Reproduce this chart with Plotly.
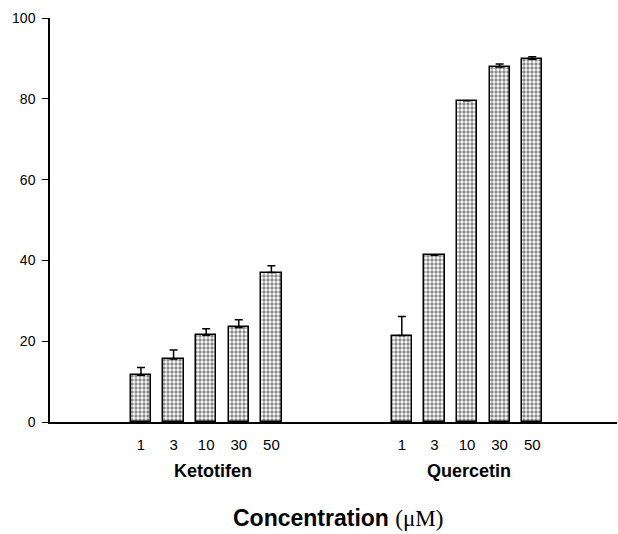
import plotly.graph_objects as go

concentrations = ["1", "3", "10", "30", "50"]
groups = ["Ketotifen", "Quercetin"]
ketotifen_values = [11.6, 15.6, 21.5, 23.4, 37.0]
ketotifen_err = [1.9, 2.2, 1.6, 1.9, 1.7]
quercetin_values = [21.4, 41.3, 79.5, 87.9, 89.8]
quercetin_err = [4.7, None, None, 0.7, 0.6]

ket_pos = [0, 1, 2, 3, 4]
quer_pos = [8, 9, 10, 11, 12]

fig = go.Figure()
for pos, vals, errs in [(ket_pos, ketotifen_values, ketotifen_err),
                        (quer_pos, quercetin_values, quercetin_err)]:
    fig.add_trace(go.Bar(
        x=pos, y=vals, width=0.62,
        marker=dict(color="white",
                    line=dict(color="black", width=1.5),
                    pattern=dict(shape=".", fgcolor="#111", bgcolor="white",
                                 size=4, solidity=0.55)),
        error_y=dict(type="data", symmetric=False, array=errs,
                     arrayminus=[0]*len(errs), color="black",
                     thickness=1.5, width=4),
        showlegend=False,
    ))

fig.update_layout(
    width=618, height=534,
    margin=dict(l=50, r=1, t=18, b=112),
    plot_bgcolor="white", paper_bgcolor="white",
    font=dict(family="Liberation Sans, Arial", color="black", size=14),
    bargap=0,
)
fig.update_xaxes(
    range=[-2.79, 14.6],
    tickvals=ket_pos + quer_pos,
    ticktext=concentrations + concentrations,
    ticks="", showline=True, linecolor="black", linewidth=1.5,
    showgrid=False, zeroline=False,
    tickfont=dict(size=15), ticklabelstandoff=8,
)
fig.update_yaxes(
    range=[0, 100], tickvals=[0, 20, 40, 60, 80, 100],
    ticks="outside", ticklen=6, tickcolor="black",
    showline=True, linecolor="black", linewidth=1.5,
    showgrid=False, zeroline=False,
    tickfont=dict(size=14), ticklabelstandoff=4,
)
fig.add_annotation(x=2.2, y=0, xref="x", yref="paper", yshift=-49,
                   text="<b>Ketotifen</b>", showarrow=False,
                   font=dict(size=18), yanchor="middle")
fig.add_annotation(x=10.06, y=0, xref="x", yref="paper", yshift=-49,
                   text="<b>Quercetin</b>", showarrow=False,
                   font=dict(size=18), yanchor="middle")
fig.add_annotation(x=6.04, y=0, xref="x", yref="paper", yshift=-96,
                   text="<b>Concentration</b> <span style='font-family:Liberation Serif'>(μM)</span>",
                   showarrow=False, font=dict(size=23), yanchor="middle")

fig.write_html("out.html")
